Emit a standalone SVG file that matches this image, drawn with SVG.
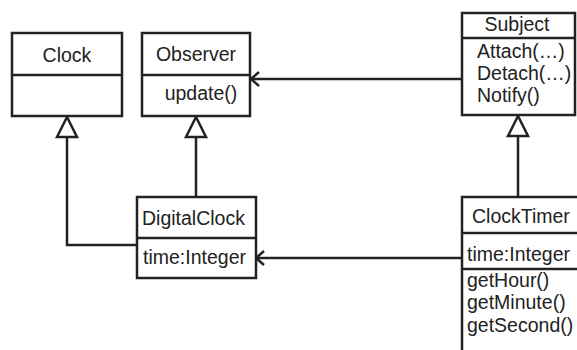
<svg xmlns="http://www.w3.org/2000/svg" width="577" height="350" viewBox="0 0 577 350">
<style>
.box{fill:#fff;stroke:#222;stroke-width:2.5}
.ln{fill:none;stroke:#222;stroke-width:2.5}
.t{font-family:"Liberation Sans",Arial,sans-serif;font-size:19.5px;fill:#222}
.c{text-anchor:middle}
</style>
<rect width="577" height="350" fill="#fff"/>
<g id="connectors">
<path class="ln" d="M462,79 H251"/>
<path class="ln" d="M259,72 L251,79 L259,86"/>
<path class="ln" d="M462,258 H256"/>
<path class="ln" d="M264,251 L256,258 L264,265"/>
<path class="ln" d="M67,137 V245 H137"/>
<polygon class="ln" points="67,117 57,137 77,137"/>
<path class="ln" d="M196,137 V197"/>
<polygon class="ln" points="196,117 186,137 206,137"/>
<path class="ln" d="M518,136 V197"/>
<polygon class="ln" points="518,116 508,136 528,136"/>
</g>
<g id="Clock">
<rect class="box" x="12" y="33" width="110" height="83"/>
<line class="ln" x1="12" y1="75" x2="122" y2="75"/>
<text class="t c" x="67" y="62">Clock</text>
</g>
<g id="Observer">
<rect class="box" x="142" y="33" width="108" height="83"/>
<line class="ln" x1="142" y1="75" x2="250" y2="75"/>
<text class="t c" x="196" y="61">Observer</text>
<text class="t c" x="201" y="100">update()</text>
</g>
<g id="Subject">
<rect class="box" x="462" y="13" width="113" height="102"/>
<line class="ln" x1="462" y1="38" x2="575" y2="38"/>
<text class="t c" x="517" y="31">Subject</text>
<text class="t" x="477" y="58">Attach(…)</text>
<text class="t" x="477" y="80">Detach(…)</text>
<text class="t" x="477" y="102">Notify()</text>
</g>
<g id="DigitalClock">
<rect class="box" x="137" y="197" width="119" height="81"/>
<line class="ln" x1="137" y1="238" x2="256" y2="238"/>
<text class="t" x="142" y="225">DigitalClock</text>
<text class="t" x="143" y="264">time:Integer</text>
</g>
<g id="ClockTimer">
<rect class="box" x="462" y="197" width="130" height="170"/>
<line class="ln" x1="462" y1="233" x2="580" y2="233"/>
<line class="ln" x1="462" y1="269" x2="580" y2="269"/>
<text class="t" x="472" y="223">ClockTimer</text>
<text class="t" x="467" y="261">time:Integer</text>
<text class="t" x="467" y="287">getHour()</text>
<text class="t" x="467" y="309">getMinute()</text>
<text class="t" x="467" y="332">getSecond()</text>
</g>
</svg>
